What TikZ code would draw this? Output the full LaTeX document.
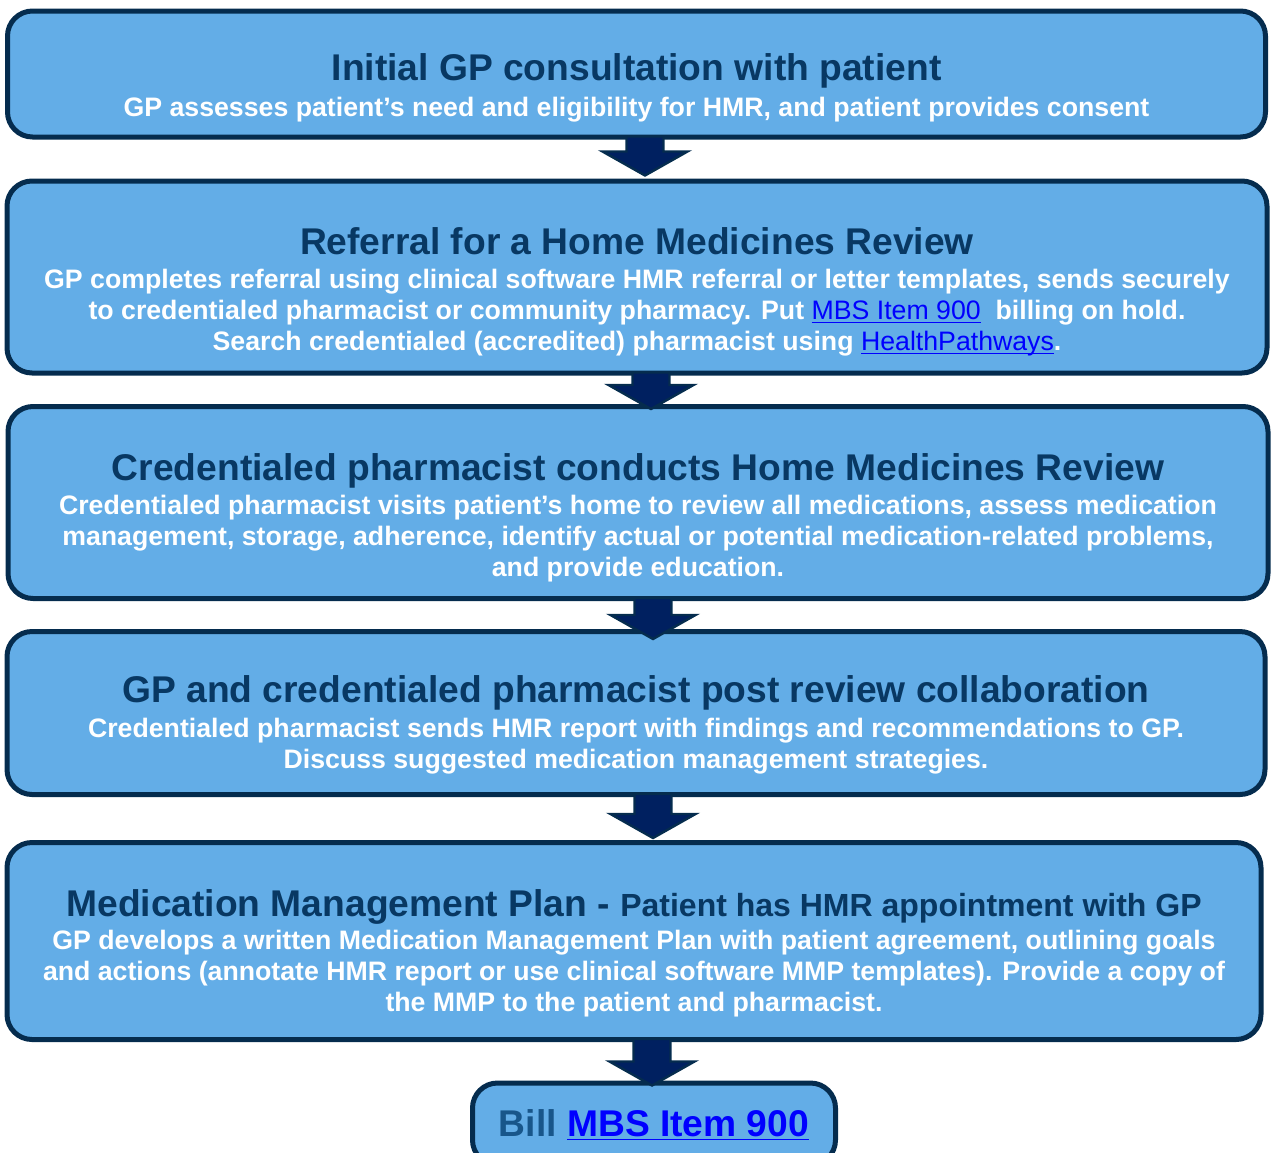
\documentclass[tikz,border=0pt]{standalone}
\usepackage{fontspec}
\setmainfont{Liberation Sans}
\usepackage{tikz}
\usetikzlibrary{positioning,calc}
\definecolor{boxfill}{RGB}{99,173,231}
\definecolor{boxline}{RGB}{5,44,78}
\definecolor{titleblue}{RGB}{8,56,99}
\definecolor{arrowfill}{RGB}{0,32,96}
\definecolor{billblue}{RGB}{24,86,138}
\definecolor{linkblue}{RGB}{0,0,255}
\tikzstyle{stepbox} = [rectangle, draw=boxline, fill=boxfill, line width=2.5pt, rounded corners=12.5pt]
\tikzstyle{steptitle} = [anchor=north, inner sep=0pt, text=titleblue, font=\bfseries\fontsize{18.6}{22}\selectfont]
\tikzstyle{stepnote} = [anchor=north, inner sep=0pt, text=white, align=center, font=\bfseries\fontsize{13.35}{15.5}\selectfont]
\tikzstyle{blockarrow} = [draw=boxline, fill=arrowfill, line width=1.2pt, line join=miter]
\newcommand{\weblink}[1]{\textcolor{linkblue}{\mdseries\underline{\smash{#1}}}}
% block arrow from the bottom of one box into the top of the next
\newcommand{\flowarrow}[4]{%
  \draw [blockarrow] ($(#1.south -| #3,0)+(-18.5,-3)$) -- ($(#2.north -| #3,0)+(-18.5,#4-24)$)
    -- ++(-24,0) -- ($(#2.north -| #3,0)+(0,#4)$) -- ($(#2.north -| #3,0)+(42.5,#4-24)$)
    -- ++(-24,0) -- ($(#1.south -| #3,0)+(18.5,-3)$) -- cycle;}
\begin{document}
\begin{tikzpicture}[x=0.5pt, y=-0.5pt]
	\useasboundingbox (0,0) rectangle (1271,1153);

	% place boxes
	\node [stepbox, minimum width=629pt, minimum height=63pt]   (consult)  at (636.5,74) {};
	\node [stepbox, minimum width=630pt, minimum height=96pt]   (referral) at (637,277) {};
	\node [stepbox, minimum width=630pt, minimum height=96pt]   (review)   at (638,502.5) {};
	\node [stepbox, minimum width=629pt, minimum height=81.5pt] (collab)   at (636,713) {};
	\node [stepbox, minimum width=627pt, minimum height=98.5pt] (plan)     at (634,941) {};
	\node [stepbox, minimum width=181.5pt, minimum height=41pt] (bill)     at (654,1124) {};

	% box texts
	\node [steptitle] (consult-title) at (636.5,53) {Initial GP consultation with patient};
	\node [stepnote]  (consult-text)  at (636.5,97) {GP assesses patient’s need and eligibility for HMR, and patient provides consent};

	\node [steptitle] (referral-title) at (637,227.5) {Referral for a Home Medicines Review};
	\node [stepnote]  (referral-text)  at (637,269) {GP completes referral using clinical software HMR referral or letter templates, sends securely\\
		to credentialed pharmacist or community pharmacy. Put \weblink{MBS Item 900}\ \ billing on hold.\\
		Search credentialed (accredited) pharmacist using \weblink{HealthPathways}.};

	\node [steptitle] (review-title) at (638,453.5) {Credentialed pharmacist conducts Home Medicines Review};
	\node [stepnote]  (review-text)  at (638,495) {Credentialed pharmacist visits patient’s home to review all medications, assess medication\\
		management, storage, adherence, identify actual or potential medication-related problems,\\
		and provide education.};

	\node [steptitle] (collab-title) at (636,675.5) {GP and credentialed pharmacist post review collaboration};
	\node [stepnote]  (collab-text)  at (636,718) {Credentialed pharmacist sends HMR report with findings and recommendations to GP.\\
		Discuss suggested medication management strategies.};

	\node [steptitle] (plan-title) at (634,889.5)
		{Medication Management Plan - {\fontsize{16}{19}\selectfont Patient has HMR appointment with GP}};
	\node [stepnote] (plan-text) at (634,930)
		{GP develops a written Medication Management Plan with patient agreement, outlining goals\\
		and actions (annotate HMR report or use clinical software MMP templates). Provide a copy of\\
		the MMP to the patient and pharmacist.};

	\node [steptitle, text=billblue] (bill-text) at (654,1109)
		{Bill \textcolor{linkblue}{\underline{\smash{MBS Item 900}}}};

	% draw arrows
	\flowarrow{consult}{referral}{645}{-3}
	\flowarrow{referral}{review}{651}{5}
	\flowarrow{review}{collab}{653}{10}
	\flowarrow{collab}{plan}{653}{-2}
	\flowarrow{plan}{bill}{652}{5}
\end{tikzpicture}
\end{document}
